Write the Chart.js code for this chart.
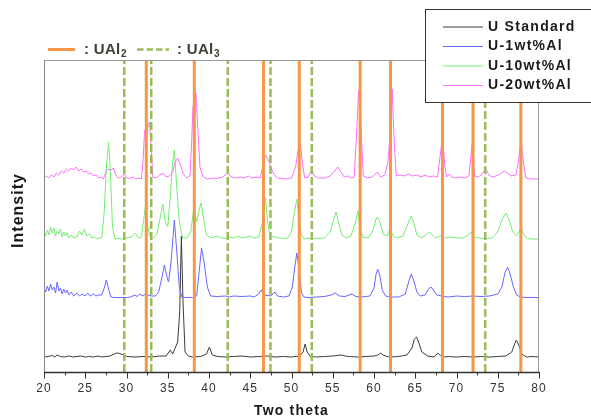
<!DOCTYPE html>
<html><head><meta charset="utf-8">
<script src="https://cdn.jsdelivr.net/npm/chart.js@4.4.1/dist/chart.umd.min.js"></script>
<style>html,body{margin:0;padding:0;background:#fff;}canvas{display:block;}</style>
</head><body>
<canvas id="c" width="591" height="418"></canvas>
<script>
// ---- data (two theta, intensity in arbitrary offset units) ----
const seriesNames = ['U Standard', 'U-1wt%Al', 'U-10wt%Al', 'U-20wt%Al'];
const uStandard = [[20,15],[20.5,15.5],[21,16.5],[21.3,15],[21.6,17],[22,15.5],[22.5,15],[23,16],[23.5,15],[24,15.5],[24.5,16],[25,15],[25.5,15.5],[26,15],[26.5,16],[27,15],[27.5,15.5],[28,16],[28.5,18],[28.8,19],[29.2,18.5],[29.6,17],[30,15.5],[31,15],[32,15.5],[33,15],[34,16],[34.8,16],[35.3,22],[35.6,18],[35.9,24],[36.2,30],[36.45,60],[36.65,136],[36.85,70],[37.1,20],[37.5,16],[38,15],[39,15.5],[39.7,18],[40.05,25],[40.4,17],[41,15.5],[42,15],[43,15.5],[44,16],[45,15],[46,15.5],[47,16],[48,15],[49,15.5],[50,15],[51,16],[51.4,20],[51.65,28],[51.9,20],[52.3,15.5],[53,15],[54,15.5],[55,16],[56,17],[56.5,16],[57,15.5],[58,15],[59,15.5],[60,16],[60.5,17],[60.8,19],[61.1,17],[61.6,15.5],[62,15],[63,15.5],[64,17],[64.6,24],[64.9,33],[65.15,35],[65.4,30],[65.8,20],[66.5,16],[67.3,15],[67.75,19],[68.1,16],[68.5,15],[69,15.5],[70,15],[71,15.5],[72,15],[73,15.5],[74,15],[75,15.5],[76,16],[76.7,20],[77.0,27],[77.25,32],[77.5,28],[77.9,18],[78.5,15],[79,15.5],[80,15]];
const u1Al = [[20,84],[20.2,80],[20.4,86],[20.6,81],[20.8,88],[21,82],[21.2,85],[21.4,79],[21.6,90],[21.8,81],[22,84],[22.2,78],[22.4,83],[22.6,79],[22.8,82],[23,77],[23.3,80],[23.6,76],[24,79],[24.3,76],[24.6,78],[25,76],[25.3,79],[25.6,76],[26,78],[26.3,76],[26.6,77],[27,77],[27.3,84],[27.55,92],[27.8,84],[28.1,75],[28.5,74.5],[29,74.5],[30,74.5],[30.5,75],[31,77],[31.3,75.5],[31.6,78],[32,76],[32.3,78],[32.6,77],[33,76],[33.5,76],[33.9,80],[34.3,95],[34.6,107],[34.9,95],[35.1,90],[35.4,110],[35.8,152],[36.1,120],[36.4,85],[36.7,75],[37,74.5],[38,74.5],[38.5,76],[38.8,100],[39.1,124],[39.4,110],[39.8,85],[40.2,76],[41,75.5],[42,76],[42.5,75],[43,76],[44,75.5],[45,76],[45.5,75],[46,78],[46.3,82],[46.7,77],[47.5,76],[48,80],[48.3,76],[49,75],[49.7,76],[50.1,85],[50.4,105],[50.65,119],[50.9,105],[51.2,80],[51.5,75],[52,74.5],[53,75],[54,75.5],[54.8,77],[55.3,79],[55.8,76],[56.5,75.5],[57.3,78],[57.8,75.5],[58.5,75],[59.5,76],[60,84],[60.25,98],[60.45,102.7],[60.7,97],[61,82],[61.4,76],[62,75],[63,75],[63.8,78],[64.2,90],[64.5,97.7],[64.8,92],[65.2,80],[65.6,76],[66.2,77],[66.6,83],[66.9,85],[67.2,82],[67.6,77],[68.2,76],[69,75],[70,76],[71,75.5],[72,76],[73,75.5],[74,76],[75,78],[75.5,85],[75.9,100],[76.2,104.7],[76.5,98],[76.9,85],[77.3,77],[77.7,75],[78.5,74.5],[79.5,74.5],[80,74.5]];
const u10Al = [[20,140],[20.2,136],[20.4,142],[20.6,137],[20.8,145],[21,139],[21.2,144],[21.4,136],[21.6,141],[21.8,138],[22,143],[22.2,135],[22.4,140],[22.6,136],[22.8,139],[23,134],[23.3,137],[23.6,134],[24,135],[24.3,141],[24.6,137],[24.9,143],[25.2,136],[25.5,138],[25.8,134],[26.1,135],[26.4,133],[26.7,134],[27,134],[27.3,160],[27.6,210],[27.83,230],[28.05,200],[28.3,145],[28.6,133],[29,133.5],[29.5,133],[30,134],[30.6,135],[31.07,139],[31.4,134],[31.8,135],[32.05,150],[32.28,165],[32.5,150],[32.8,136],[33.2,134],[33.7,138],[34.1,155],[34.4,168],[34.7,150],[35.0,145],[35.3,175],[35.55,205],[35.8,222],[36.05,190],[36.4,150],[36.8,134],[37.3,134],[37.8,140],[38.15,164],[38.5,150],[38.8,162],[39.03,169],[39.3,155],[39.7,137],[40.2,134],[41,136],[41.5,134],[42,133.5],[42.5,135],[43,134],[43.5,136],[44,134],[44.5,135],[45,136],[45.5,134],[46,135],[46.5,150],[46.85,174],[47.1,150],[47.4,136],[48,135],[48.5,134],[49,133.5],[49.5,134],[50,140],[50.35,160],[50.64,172.7],[50.9,155],[51.2,137],[51.5,133],[52,134],[52.5,133],[53,134],[53.5,133.5],[54,134],[54.7,140],[55.1,152],[55.4,160],[55.7,150],[56.1,137],[56.6,134],[57.2,136],[57.7,148],[58.04,161],[58.3,145],[58.6,135],[59.3,134],[59.9,142],[60.2,152],[60.4,155],[60.7,150],[61.1,138],[61.6,136],[61.96,144],[62.3,136],[62.8,134],[63.5,136],[64.1,148],[64.5,156],[64.8,150],[65.2,137],[65.8,134],[66.4,138],[66.7,140],[67.1,137],[67.5,134],[68.2,137],[68.7,134],[69.2,135],[70,134],[70.8,134],[71.4,137],[71.75,140],[72.1,135],[72.8,134],[73.5,133.5],[74.3,134],[75,140],[75.5,152],[76.0,159],[76.4,152],[76.8,140],[77.3,136],[77.8,144],[78.2,137],[78.6,133.5],[79,133],[80,133]];
const u20Al = [[20,194],[20.3,196],[20.6,194],[20.9,197],[21.2,195],[21.5,199],[21.8,197],[22.1,201],[22.4,199],[22.7,203],[23,201],[23.3,204],[23.6,202],[23.9,205],[24.2,201],[24.5,203],[24.8,200],[25.1,201],[25.4,198],[25.7,199],[26,196],[26.3,197],[26.6,194],[26.9,195],[27.2,193],[27.5,200],[27.8,203],[28.1,202],[28.4,204],[28.7,197],[29,194],[29.4,195],[29.7,198],[30,194],[30.4,193.5],[30.8,195],[31.1,193],[31.5,194],[31.8,193],[32.0,210],[32.2,242],[32.45,235],[32.6,246],[32.8,250],[33.0,220],[33.2,195],[33.6,194],[34.0,197],[34.4,199],[34.8,195],[35.2,196],[35.6,200],[35.9,210],[36.2,214],[36.5,208],[36.9,198],[37.3,194],[37.7,196],[37.9,230],[38.05,265],[38.25,270],[38.42,279],[38.6,250],[38.9,205],[39.3,195],[39.8,193],[40.5,194],[41,193.5],[41.7,195],[42.3,200],[42.7,195],[43.2,194],[43.8,195],[44.3,194],[44.8,196],[45.2,194],[45.7,195],[46.2,194],[46.5,205],[46.85,217],[47.2,212],[47.5,205],[47.9,197],[48.3,194],[48.8,193.5],[49.5,193],[50.0,194],[50.5,205],[50.8,222],[51.05,229],[51.3,210],[51.6,194],[52.0,195],[52.45,202],[52.8,196],[53.3,194],[54,194],[54.7,196],[55.2,201],[55.6,205],[56.0,200],[56.4,195],[56.8,196],[57.2,194],[57.6,195],[57.9,240],[58.14,282],[58.3,260],[58.45,240],[58.7,196],[59.2,194],[59.8,195],[60.4,200],[60.8,195],[61.3,197],[61.7,210],[61.95,240],[62.2,283],[62.45,230],[62.7,196],[63.2,197],[63.7,196],[64.2,198],[64.7,196],[65.2,197],[65.7,195],[66.2,197],[66.7,195],[67.2,196],[67.7,195],[68.0,215],[68.3,235],[68.6,205],[68.8,195],[69.1,198],[69.4,195],[69.9,194],[70.5,195],[71.0,194],[71.5,196],[71.8,220],[71.9,229],[72.05,215],[72.2,196],[72.6,195],[73.0,197],[73.3,201],[73.6,203],[73.9,197],[74.3,195],[74.8,196],[75.3,198],[75.8,201],[76.2,199],[76.6,196],[77.2,197],[77.5,210],[77.8,232],[78.1,210],[78.4,194],[79,193],[80,193]];
const ual2Lines = [32.4, 38.22, 46.6, 50.94, 58.32, 62.0, 68.3, 72.0, 77.8];
const ual3Lines = [29.73, 33.0, 42.27, 47.45, 52.46, 73.48];
const xMin = 20, xMax = 80, xStep = 5, yMin = 0, yMax = 312;

// ---- styles ----
const FONT = '"Liberation Sans", Arial, sans-serif';
const seriesColors = ['#3c3c3c', '#6666ff', '#72ee72', '#ff6eff'];
const ORANGE = '#f79646', OLIVE = '#9bbb59';

const toXY = arr => arr.map(p => ({x: p[0], y: p[1]}));
const seriesData = [uStandard, u1Al, u10Al, u20Al];
const datasets = [];
ual2Lines.forEach(t => datasets.push({data: [{x: t, y: yMin}, {x: t, y: yMax}], borderColor: ORANGE, borderWidth: 3, pointRadius: 0, order: 0}));
ual3Lines.forEach(t => datasets.push({data: [{x: t, y: yMin}, {x: t, y: yMax}], borderColor: OLIVE, borderWidth: 2.5, borderDash: [8, 3], pointRadius: 0, order: 0}));
seriesData.forEach((s, i) => datasets.push({label: seriesNames[i], data: toXY(s), borderColor: seriesColors[i], borderWidth: 1, pointRadius: 0, tension: 0, order: 4 - i}));

const decor = {
  id: 'decor',
  beforeDraw(chart) {
    chart.ctx.letterSpacing = '1.2px';
  },
  afterDraw(chart) {
    const ctx = chart.ctx, a = chart.chartArea, xs = chart.scales.x;
    ctx.save();
    ctx.letterSpacing = '0px';
    // frame
    ctx.strokeStyle = '#999';
    ctx.lineWidth = 1;
    ctx.strokeRect(a.left + 0.5, a.top + 0.5, a.right - a.left - 1, a.bottom - a.top);
    ctx.strokeStyle = '#888';
    ctx.beginPath(); ctx.moveTo(a.left + 0.5, a.top); ctx.lineTo(a.left + 0.5, a.bottom); ctx.stroke();
    // bottom axis + ticks
    ctx.strokeStyle = '#333';
    ctx.lineWidth = 1.3;
    ctx.beginPath(); ctx.moveTo(a.left, a.bottom + 0.5); ctx.lineTo(a.right, a.bottom + 0.5); ctx.stroke();
    ctx.lineWidth = 1;
    for (let v = xMin; v <= xMax + 1e-6; v += xStep / 2) {
      const px = Math.round(xs.getPixelForValue(v)) + 0.5;
      const major = Math.abs(v / xStep - Math.round(v / xStep)) < 1e-6;
      ctx.beginPath(); ctx.moveTo(px, a.bottom); ctx.lineTo(px, a.bottom + (major ? 6.5 : 3.5)); ctx.stroke();
    }
    // y title
    ctx.save();
    ctx.translate(18.5, 210.5);
    ctx.rotate(-Math.PI / 2);
    ctx.font = 'bold 16px ' + FONT;
    ctx.letterSpacing = '1px';
    ctx.fillStyle = '#1a1a1a';
    ctx.textAlign = 'center'; ctx.textBaseline = 'middle';
    ctx.fillText('Intensity', 0, 0);
    ctx.restore();
    // phase legend (top left)
    ctx.lineWidth = 3; ctx.strokeStyle = ORANGE;
    ctx.beginPath(); ctx.moveTo(48, 49.5); ctx.lineTo(75, 49.5); ctx.stroke();
    ctx.lineWidth = 2.5; ctx.strokeStyle = OLIVE; ctx.setLineDash([6.5, 3]);
    ctx.beginPath(); ctx.moveTo(137, 49.5); ctx.lineTo(169, 49.5); ctx.stroke();
    ctx.setLineDash([]);
    ctx.fillStyle = '#3e3e36';
    ctx.textBaseline = 'alphabetic'; ctx.textAlign = 'left';
    const phaseLabel = (x, sub) => {
      ctx.font = 'bold 15px ' + FONT;
      ctx.letterSpacing = '0.3px';
      ctx.fillText(': UAl', x, 54);
      const w = ctx.measureText(': UAl').width;
      ctx.font = 'bold 10px ' + FONT;
      ctx.fillText(sub, x + w + 0.5, 57);
    };
    phaseLabel(84, '2');
    phaseLabel(177, '3');
    // series legend box (top right)
    ctx.letterSpacing = '0px';
    ctx.fillStyle = '#fff';
    ctx.fillRect(425.5, 9.5, 180, 93);
    ctx.strokeStyle = '#333'; ctx.lineWidth = 1;
    ctx.strokeRect(425.5, 9.5, 180, 93);
    const rows = [26.5, 46, 65.5, 85];
    ctx.font = 'bold 14px ' + FONT;
    ctx.letterSpacing = '1.3px';
    ctx.textBaseline = 'middle';
    seriesNames.forEach((n, i) => {
      ctx.strokeStyle = seriesColors[i]; ctx.lineWidth = 1;
      ctx.beginPath(); ctx.moveTo(443, rows[i] + 0.5); ctx.lineTo(483, rows[i] + 0.5); ctx.stroke();
      ctx.fillStyle = '#1a1a1a';
      ctx.fillText(n, 488, rows[i] + 0.5);
    });
    ctx.restore();
  }
};

new Chart(document.getElementById('c'), {
  type: 'line',
  data: {datasets},
  options: {
    responsive: false, animation: false, devicePixelRatio: 1,
    layout: {padding: {top: 60, right: 52, left: 0, bottom: 0}},
    plugins: {legend: {display: false}, tooltip: {enabled: false}},
    scales: {
      x: {
        type: 'linear', min: xMin, max: xMax,
        ticks: {stepSize: xStep, autoSkip: false, maxRotation: 0, color: '#333', font: {family: FONT, size: 12}, padding: 3},
        grid: {display: false, drawTicks: true, tickLength: 6},
        border: {display: false},
        title: {display: true, text: 'Two theta', color: '#1a1a1a', font: {family: FONT, size: 14, weight: 'bold'}, padding: {top: 0, bottom: -2}},
        afterFit: s => { s.height = 46; }
      },
      y: {
        type: 'linear', min: yMin, max: yMax,
        ticks: {display: false},
        grid: {display: false, drawTicks: false},
        border: {display: false},
        afterFit: s => { s.width = 44; }
      }
    }
  },
  plugins: [decor]
});
</script>
</body></html>
